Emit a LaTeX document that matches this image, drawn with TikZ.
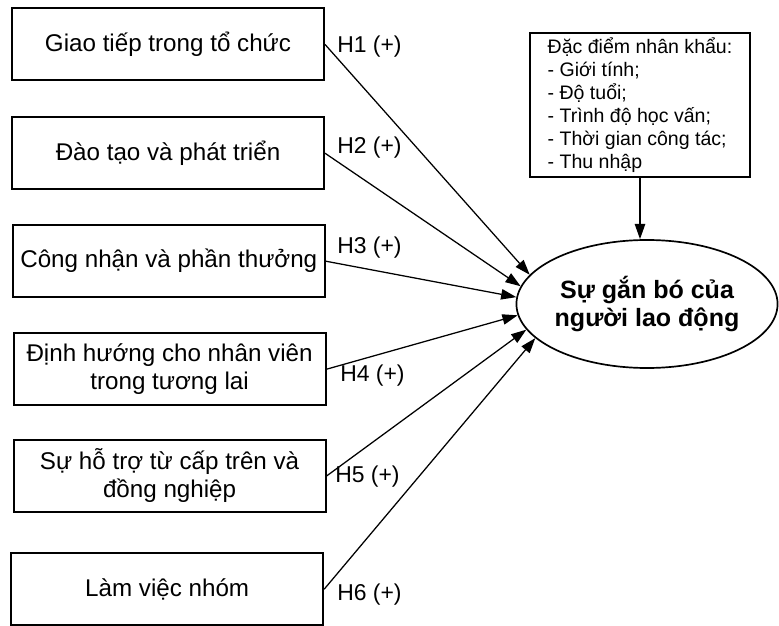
\documentclass[tikz,border=0pt]{standalone}
\usepackage{fontspec}
\setmainfont{Liberation Sans}
\usepackage{tikz}
\usetikzlibrary{arrows.meta}
\usetikzlibrary{shapes.geometric, calc}

\begin{document}
\begin{tikzpicture}[
    facteur/.style={draw, line width=1.4pt, minimum width=7.8cm, minimum height=1.8cm,
        inner xsep=0.05cm, align=center, font=\fontsize{17.2}{19.9}\selectfont},
    hypo/.style={anchor=west, inner sep=0pt, font=\fontsize{16.3}{18}\selectfont},
    fleche/.style={-{Triangle[length=0.38cm, width=0.26cm]}, line width=0.9pt}
]
        % Cadre de la figure
        \useasboundingbox (0,0) rectangle (19.475,-15.65);

        % Les six facteurs
        \node[facteur] (giaotiep) at (4.2,-1.11) {Giao tiếp trong tổ chức};
        \node[facteur] (daotao) at (4.2,-3.83) {Đào tạo và phát triển};
        \node[facteur] (congnhan) at (4.22,-6.53) {Công nhận và phần thưởng};
        \node[facteur] (dinhhuong) at (4.24,-9.23) {Định hướng cho nhân viên\\trong tương lai};
        \node[facteur] (hotro) at (4.24,-11.9) {Sự hỗ trợ từ cấp trên và\\đồng nghiệp};
        \node[facteur] (nhom) at (4.18,-14.73) {Làm việc nhóm};

        % Variable dépendante
        \node[ellipse, draw, line width=1.2pt, minimum width=6.5cm, minimum height=3.2cm,
            inner sep=0pt, align=center, font=\bfseries\fontsize{17.8}{19.9}\selectfont]
            (ganbo) at (16.175,-7.6) {Sự gắn bó của\\người lao động};

        % Caractéristiques démographiques
        \node[draw, line width=1.4pt, minimum width=5.5cm, minimum height=3.6cm,
            align=left, font=\fontsize{13.9}{16.4}\selectfont] (nhankhau) at (16,-2.625)
            {Đặc điểm nhân khẩu:\\- Giới tính;\\- Độ tuổi;\\- Trình độ học vấn;\\- Thời gian công tác;\\- Thu nhập};

        % Les flèches
        \draw[fleche] (giaotiep.east) -- (ganbo.166);
        \draw[fleche] (daotao.east) -- (ganbo.172);
        \draw[fleche] (congnhan.east) -- (ganbo.177);
        \draw[fleche] (dinhhuong.east) -- (ganbo.185);
        \draw[fleche] (hotro.east) -- (ganbo.192);
        \draw[fleche] (nhom.east) -- (ganbo.197);
        \draw[fleche] (nhankhau.south) -- (nhankhau.south |- ganbo.north);

        % Hypothèses
        \node[hypo] (h1) at (8.425,-1.175) {H1 (+)};
        \node[hypo] (h2) at (8.425,-3.7) {H2 (+)};
        \node[hypo] (h3) at (8.425,-6.2) {H3 (+)};
        \node[hypo] (h4) at (8.5,-9.4) {H4 (+)};
        \node[hypo] (h5) at (8.375,-11.925) {H5 (+)};
        \node[hypo] (h6) at (8.425,-14.875) {H6 (+)};
\end{tikzpicture}
\end{document}
